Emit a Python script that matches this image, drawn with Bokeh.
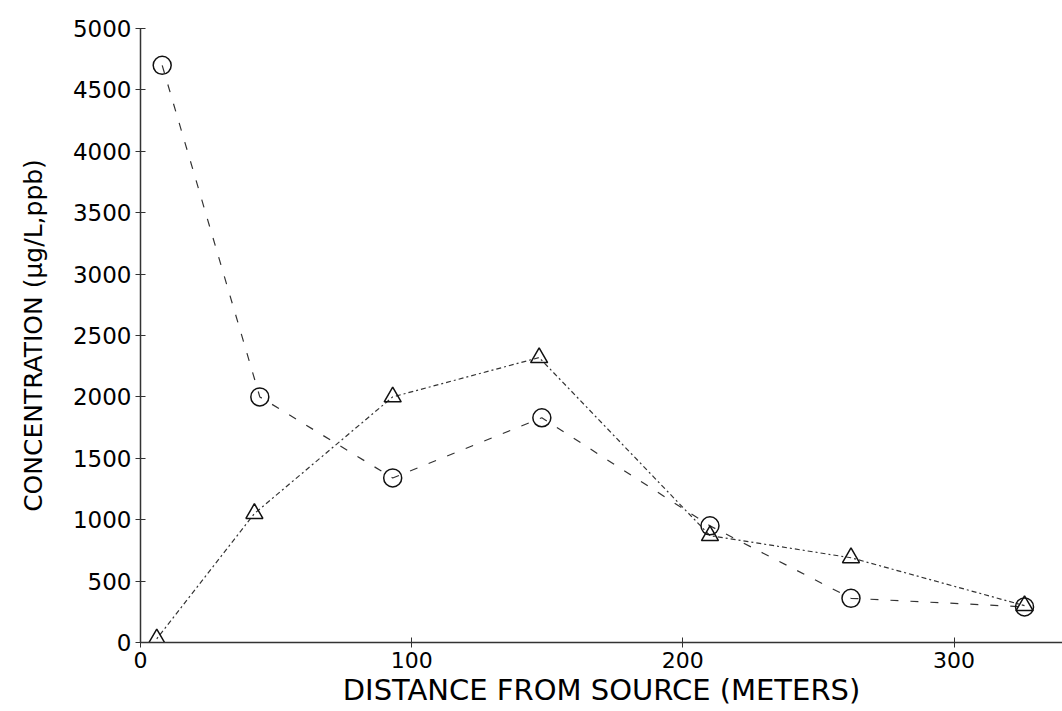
from bokeh.plotting import figure
from bokeh.models import Range1d, FixedTicker
from bokeh.embed import file_html
from bokeh.resources import INLINE

# Data
tri_distance = [6, 42, 93, 147, 210, 262, 326]
tri_conc = [30, 1050, 2000, 2320, 870, 690, 300]

circ_distance = [8, 44, 93, 148, 210, 262, 326]
circ_conc = [4700, 2000, 1340, 1830, 950, 360, 290]

x_ticks = [0, 100, 200, 300]
y_ticks = [0, 500, 1000, 1500, 2000, 2500, 3000, 3500, 4000, 4500, 5000]

FONT = "DejaVu Sans"

p = figure(width=1062, height=711, output_backend="svg", toolbar_location=None,
           x_range=Range1d(0, 340), y_range=Range1d(0, 5000),
           min_border_left=140, min_border_right=0, min_border_top=28,
           min_border_bottom=69)
p.outline_line_color = None
p.xgrid.visible = False
p.ygrid.visible = False
p.background_fill_color = "white"
p.border_fill_color = "white"

# lines
p.line(circ_distance, circ_conc, line_color="#333333", line_width=1.2, line_dash="8 12")
p.line(tri_distance, tri_conc, line_color="#333333", line_width=1.2, line_dash="2 3 5 3")

# markers
p.scatter(circ_distance, circ_conc, marker="circle", size=18, fill_color=None,
          line_color="#111111", line_width=1.5)
p.scatter(tri_distance, tri_conc, marker="triangle", size=17, fill_color=None,
          line_color="#111111", line_width=1.5)

for ax in (p.xaxis[0], p.yaxis[0]):
    ax.axis_line_color = "#333333"
    ax.axis_line_width = 1.5
    ax.major_tick_line_color = "#333333"
    ax.major_tick_in = 5
    ax.major_tick_out = 5
    ax.minor_tick_line_color = None
    ax.major_label_text_font = FONT
    ax.major_label_text_color = "black"
    ax.axis_label_text_font = FONT
    ax.axis_label_text_font_style = "normal"
    ax.axis_label_text_color = "black"

p.xaxis.ticker = FixedTicker(ticks=x_ticks)
p.yaxis.ticker = FixedTicker(ticks=y_ticks)
p.xaxis.major_label_text_font_size = "22px"
p.yaxis.major_label_text_font_size = "23px"
p.xaxis.major_label_standoff = 4
p.yaxis.major_label_standoff = 4

p.xaxis.axis_label = "DISTANCE FROM SOURCE (METERS)"
p.xaxis.axis_label_text_font_size = "29px"
p.xaxis.axis_label_standoff = 2

p.yaxis.axis_label = "CONCENTRATION (µg/L,ppb)"
p.yaxis.axis_label_text_font_size = "25px"
p.yaxis.axis_label_standoff = 22

open("out.html", "w").write(file_html(p, INLINE))
